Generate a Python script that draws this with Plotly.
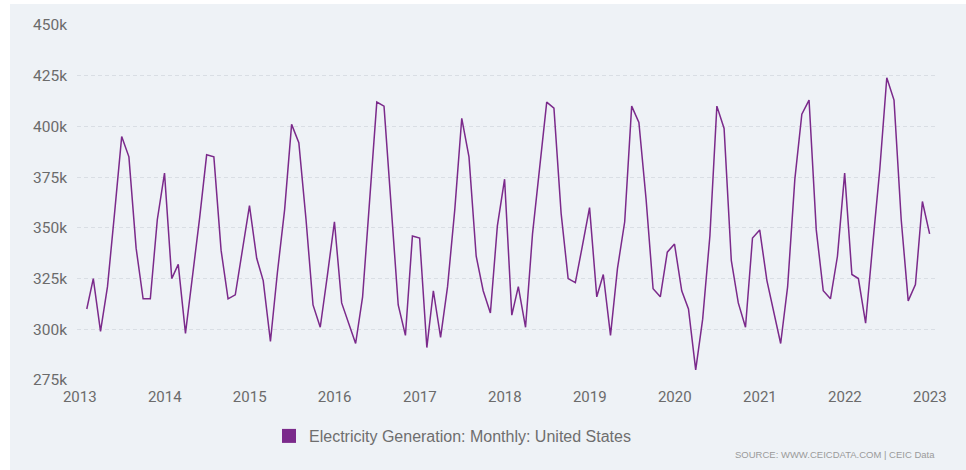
import pandas as pd
import plotly.graph_objects as go

series_name = "Electricity Generation: Monthly: United States"
source_text = "SOURCE: WWW.CEICDATA.COM | CEIC Data"

# Monthly dates (month end), Jan 2013 - Dec 2022
months = pd.date_range("2013-01-31", periods=120, freq="ME")

# Values in GWh (one row per year, Jan..Dec)
gen_2013 = [310000, 325000, 299000, 321000, 358000, 395000, 385000, 340000, 315000, 315000, 354000, 377000]
gen_2014 = [325000, 332000, 298000, 326000, 355000, 386000, 385000, 339000, 315000, 317000, 338000, 361000]
gen_2015 = [335000, 324000, 294000, 328000, 359000, 401000, 392000, 354000, 312000, 301000, 326000, 353000]
gen_2016 = [313000, 303000, 293000, 316000, 367000, 412000, 410000, 358000, 312000, 297000, 346000, 345000]
gen_2017 = [291000, 319000, 296000, 321000, 359000, 404000, 385000, 336000, 319000, 308000, 351000, 374000]
gen_2018 = [307000, 321000, 301000, 347000, 379000, 412000, 409000, 357000, 325000, 323000, 341000, 360000]
gen_2019 = [316000, 327000, 297000, 330000, 353000, 410000, 402000, 364000, 320000, 316000, 338000, 342000]
gen_2020 = [319000, 310000, 280000, 305000, 346000, 410000, 399000, 334000, 313000, 301000, 345000, 349000]
gen_2021 = [324000, 310000, 293000, 321000, 374000, 406000, 413000, 349000, 319000, 315000, 336000, 377000]
gen_2022 = [327000, 325000, 303000, 341000, 379000, 424000, 413000, 354000, 314000, 322000, 363000, 347000]

values = (gen_2013 + gen_2014 + gen_2015 + gen_2016 + gen_2017 + gen_2018
          + gen_2019 + gen_2020 + gen_2021 + gen_2022)

year_ticks = [f"{y}-01-01" for y in range(2013, 2024)]
year_labels = [str(y) for y in range(2013, 2024)]
y_ticks = [275000, 300000, 325000, 350000, 375000, 400000, 425000, 450000]
y_labels = ["275k", "300k", "325k", "350k", "375k", "400k", "425k", "450k"]

BG = "#eef2f6"
LINE = "#7b2a8b"
TICK = "#6b6b6b"
GRID = "#d9dee4"

fig = go.Figure()
fig.add_trace(go.Scatter(
    x=months, y=values, mode="lines",
    line=dict(color=LINE, width=1.5),
    name=series_name, showlegend=False,
))
# legend entry with square symbol
fig.add_trace(go.Scatter(
    x=[None], y=[None], mode="markers",
    marker=dict(symbol="square", size=14, color=LINE),
    name=series_name, showlegend=True,
))

L, R, T, B = 77, 28, 25, 90
W, H = 966, 470
pw, ph = W - L - R, H - T - B


def px_x(x):
    return (x - L) / pw


def px_y(y):
    return (T + ph - y) / ph


fig.add_shape(type="rect", xref="paper", yref="paper",
              x0=px_x(10), x1=px_x(W), y0=px_y(H), y1=px_y(4),
              fillcolor=BG, line=dict(width=0), layer="below")

fig.add_annotation(text=source_text, xref="paper", yref="paper",
                   x=px_x(937), y=px_y(454),
                   xanchor="right", yanchor="middle", showarrow=False,
                   font=dict(family="Liberation Sans, Arial, sans-serif", size=9.5, color="#9a9a9a"))

fig.update_layout(
    width=W, height=H,
    margin=dict(l=L, r=R, t=T, b=B),
    paper_bgcolor="white",
    plot_bgcolor=BG,
    font=dict(family="Roboto, Liberation Sans, sans-serif", color=TICK),
    legend=dict(
        orientation="h",
        x=px_x(269), xanchor="left",
        y=px_y(436), yanchor="middle",
        bgcolor="rgba(0,0,0,0)",
        font=dict(family="Liberation Sans, Arial, sans-serif", size=16, color="#6e6e6e"),
    ),
    xaxis=dict(
        type="date",
        range=["2012-12-20", "2023-02-05"],
        tickvals=year_ticks, ticktext=year_labels,
        showgrid=False, zeroline=False, showline=False,
        ticks="", ticklabelstandoff=6,
        tickfont=dict(size=15, color=TICK),
    ),
    yaxis=dict(
        range=[275000, 450000],
        tickvals=y_ticks, ticktext=y_labels,
        showgrid=True, gridcolor=GRID, griddash="4px,3px", gridwidth=1,
        zeroline=False, showline=False, ticks="",
        ticklabelstandoff=9,
        tickfont=dict(size=15.5, color=TICK),
    ),
)

fig.write_html("out.html", config={"displayModeBar": False},
               post_script="document.body.style.margin='0px';")
